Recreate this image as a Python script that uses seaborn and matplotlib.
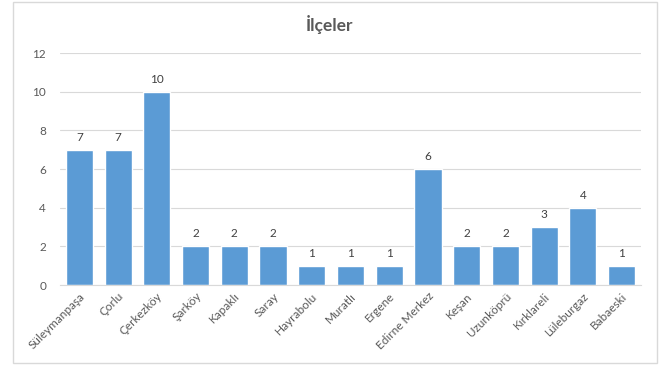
import matplotlib
matplotlib.use("Agg")
import matplotlib.pyplot as plt
import seaborn as sns
import pandas as pd
from matplotlib.patches import Rectangle

districts = ["Süleymanpaşa", "Çorlu", "Çerkezköy", "Şarköy", "Kapaklı", "Saray",
             "Hayrabolu", "Muratlı", "Ergene", "Edirne Merkez", "Keşan",
             "Uzunköprü", "Kırklareli", "Lüleburgaz", "Babaeski"]
counts = [7, 7, 10, 2, 2, 2, 1, 1, 1, 6, 2, 2, 3, 4, 1]
y_ticks = [0, 2, 4, 6, 8, 10, 12]
title = "İlçeler"

df = pd.DataFrame({"district": districts, "count": counts})

sns.set_style("white")
plt.rcParams["font.family"] = ["Lato", "DejaVu Sans"]

fig = plt.figure(figsize=(6.59, 3.67), dpi=100)
fig.patch.set_facecolor("white")
fig.patches.append(Rectangle((13 / 659, 1 - 363 / 367), 644 / 659, 361 / 367,
                             transform=fig.transFigure, fill=False,
                             edgecolor="#d9d9d9", linewidth=1.0))

ax = fig.add_axes([60 / 659, 1 - 285 / 367, 581 / 659, 232 / 367])
sns.barplot(data=df, x="district", y="count", color="#5B9BD5", saturation=1,
            width=0.70, ax=ax)

ax.set_ylim(0, 12)
ax.set_yticks(y_ticks)
ax.set_xlim(-0.5, len(districts) - 0.5)
ax.yaxis.grid(True, color="#d9d9d9", linewidth=0.8)
ax.set_axisbelow(True)
for side in ["top", "right", "left"]:
    ax.spines[side].set_visible(False)
ax.spines["bottom"].set_color("#d9d9d9")
ax.tick_params(axis="both", length=0, colors="#595959", labelsize=8.5)
ax.tick_params(axis="y", pad=10)
ax.tick_params(axis="x", pad=4)
ax.set_xlabel("")
ax.set_ylabel("")
plt.setp(ax.get_xticklabels(), rotation=45, ha="right", rotation_mode="anchor")

for container in ax.containers:
    ax.bar_label(container, padding=5, fontsize=8.5, color="#404040")

fig.text(0.5, 1 - 25 / 367, title, ha="center", va="center", fontsize=12.5,
         color="#595959", fontweight="bold")

fig.savefig("out.png", dpi=100)
